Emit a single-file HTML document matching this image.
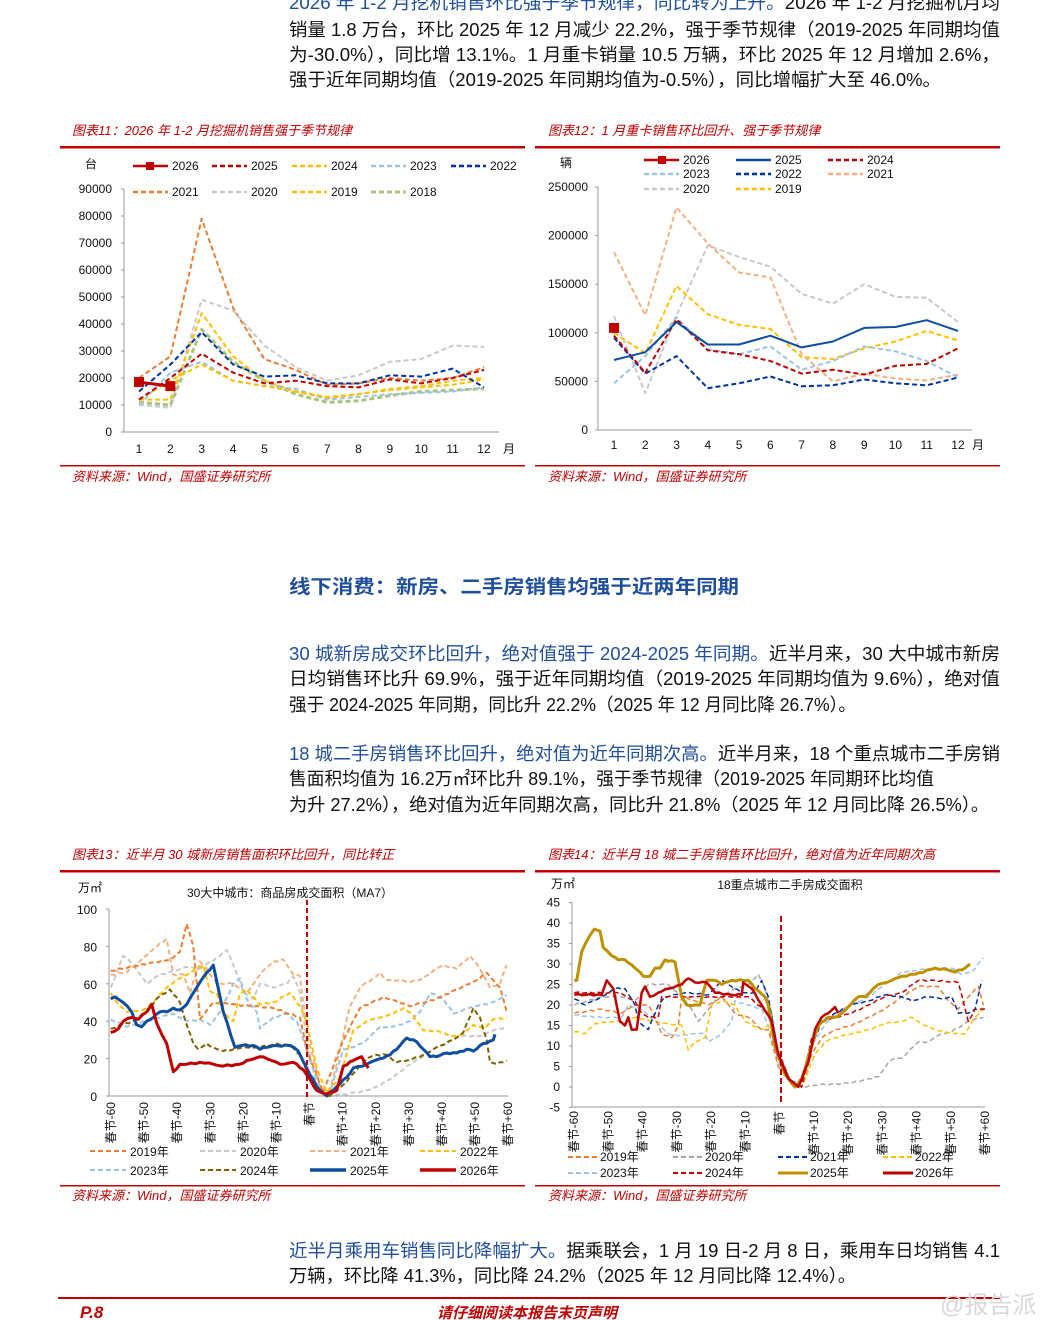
<!DOCTYPE html>
<html><head><meta charset="utf-8">
<style>
html,body{margin:0;padding:0;background:#fff;}
svg{display:block;font-family:"Liberation Sans","Noto Sans CJK SC",sans-serif;}
.b{font-size:18px;fill:#111;}
.bl{fill:#1f4e9c;}
.hd{font-size:13px;fill:#c00000;font-style:italic;}
.src{font-size:13px;fill:#c00000;font-style:italic;}
.ax{font-size:12px;fill:#111;}
.lg{font-size:12px;fill:#111;}
</style></head>
<body>
<svg id="s" width="1061" height="1320" viewBox="0 0 1061 1320" xmlns="http://www.w3.org/2000/svg">
<text class="b" x="289" y="9" textLength="711" lengthAdjust="spacingAndGlyphs"><tspan class="bl">2026 年 1-2 月挖机销售环比强于季节规律，同比转为上升。</tspan>2026 年 1-2 月挖掘机月均</text>
<text class="b" x="289" y="36" textLength="711" lengthAdjust="spacingAndGlyphs">销量 1.8 万台，环比 2025 年 12 月减少 22.2%，强于季节规律（2019-2025 年同期均值</text>
<text class="b" x="289" y="61" textLength="711" lengthAdjust="spacingAndGlyphs">为-30.0%），同比增 13.1%。1 月重卡销量 10.5 万辆，环比 2025 年 12 月增加 2.6%，</text>
<text class="b" x="289" y="86" textLength="652" lengthAdjust="spacingAndGlyphs">强于近年同期均值（2019-2025 年同期均值为-0.5%），同比增幅扩大至 46.0%。</text>

<text class="hd" x="72" y="135">图表11：2026 年 1-2 月挖掘机销售强于季节规律</text>
<text class="hd" x="548" y="135">图表12：1 月重卡销售环比回升、强于季节规律</text>
<rect x="60" y="146" width="465" height="2.5" fill="#c00000"/>
<rect x="535" y="146" width="465" height="2.5" fill="#c00000"/>
<rect x="60" y="465" width="465" height="1.5" fill="#c00000"/>
<rect x="535" y="465" width="465" height="1.5" fill="#c00000"/>
<text class="src" x="72" y="481">资料来源：Wind，国盛证券研究所</text>
<text class="src" x="548" y="481">资料来源：Wind，国盛证券研究所</text>

<g id="c11"></g>
<g id="c12"></g>

<text x="289" y="593" font-size="19" font-weight="bold" fill="#1f4e9c" textLength="450" lengthAdjust="spacingAndGlyphs">线下消费：新房、二手房销售均强于近两年同期</text>
<text class="b" x="289" y="660" textLength="711" lengthAdjust="spacingAndGlyphs"><tspan class="bl">30 城新房成交环比回升，绝对值强于 2024-2025 年同期。</tspan>近半月来，30 大中城市新房</text>
<text class="b" x="289" y="685" textLength="711" lengthAdjust="spacingAndGlyphs">日均销售环比升 69.9%，强于近年同期均值（2019-2025 年同期均值为 9.6%），绝对值</text>
<text class="b" x="289" y="711" textLength="567" lengthAdjust="spacingAndGlyphs">强于 2024-2025 年同期，同比升 22.2%（2025 年 12 月同比降 26.7%）。</text>
<text class="b" x="289" y="760" textLength="711" lengthAdjust="spacingAndGlyphs"><tspan class="bl">18 城二手房销售环比回升，绝对值为近年同期次高。</tspan>近半月来，18 个重点城市二手房销</text>
<text class="b" x="289" y="785" textLength="645" lengthAdjust="spacingAndGlyphs">售面积均值为 16.2万㎡环比升 89.1%，强于季节规律（2019-2025 年同期环比均值</text>
<text class="b" x="289" y="811" textLength="700" lengthAdjust="spacingAndGlyphs">为升 27.2%），绝对值为近年同期次高，同比升 21.8%（2025 年 12 月同比降 26.5%）。</text>

<text class="hd" x="72" y="859">图表13：近半月 30 城新房销售面积环比回升，同比转正</text>
<text class="hd" x="548" y="859">图表14：近半月 18 城二手房销售环比回升，绝对值为近年同期次高</text>
<rect x="60" y="870" width="465" height="2.5" fill="#c00000"/>
<rect x="535" y="870" width="465" height="2.5" fill="#c00000"/>
<rect x="60" y="1185" width="465" height="1.5" fill="#c00000"/>
<rect x="535" y="1185" width="465" height="1.5" fill="#c00000"/>
<text class="src" x="72" y="1200">资料来源：Wind，国盛证券研究所</text>
<text class="src" x="548" y="1200">资料来源：Wind，国盛证券研究所</text>
<g id="c13"></g>
<g id="c14"></g>

<text class="b" x="289" y="1257" textLength="711" lengthAdjust="spacingAndGlyphs"><tspan class="bl">近半月乘用车销售同比降幅扩大。</tspan>据乘联会，1 月 19 日-2 月 8 日，乘用车日均销售 4.1</text>
<text class="b" x="289" y="1282" textLength="567" lengthAdjust="spacingAndGlyphs">万辆，环比降 41.3%，同比降 24.2%（2025 年 12 月同比降 12.4%）。</text>

<rect x="58" y="1297" width="942" height="2" fill="#c00000"/>
<text x="80" y="1318" font-size="17" font-weight="bold" font-style="italic" fill="#c00000">P.8</text>
<text x="527" y="1318" font-size="15" font-weight="bold" font-style="italic" fill="#c00000" text-anchor="middle">请仔细阅读本报告末页声明</text>
<text x="940" y="1313" font-size="24" fill="#d8d8d8">@报告派</text>
</svg>
<script>
var NS="http://www.w3.org/2000/svg";
function el(g,t,a,txt){var e=document.createElementNS(NS,t);for(var k in a)e.setAttribute(k,a[k]);if(txt!==undefined)e.textContent=txt;g.appendChild(e);return e;}
function poly(g,pts,col,w,dash){var d=pts.map(function(p,i){return (i?"L":"M")+p[0].toFixed(1)+" "+p[1].toFixed(1);}).join("");var a={d:d,fill:"none",stroke:col,"stroke-width":w,"stroke-linejoin":"round"};if(dash)a["stroke-dasharray"]=dash;el(g,"path",a);}
var D="5,3";
(function(){var g=document.getElementById("c11");
var X=function(m){return 139+(m-1)*31.36;},Y=function(v){return 432-v*2.7;};
el(g,"line",{x1:124,y1:189,x2:124,y2:432,stroke:"#999"});el(g,"line",{x1:124,y1:432,x2:499,y2:432,stroke:"#999"});
for(var i=0;i<=9;i++){el(g,"line",{x1:121,y1:Y(i*10),x2:124,y2:Y(i*10),stroke:"#999"});el(g,"text",{x:112,y:Y(i*10)+4,"text-anchor":"end","class":"ax"},i?String(i*10000):"0");}
for(var m=1;m<=12;m++)el(g,"text",{x:X(m),y:453,"text-anchor":"middle","class":"ax"},String(m));
el(g,"text",{x:503,y:453,"class":"ax","font-size":"11"},"月");el(g,"text",{x:85,y:168,"class":"ax","font-size":"11"},"台");
var S=[
["2021","#ed7d31",[20,28,79,46,27,23,17.5,18,20,19,20,24]],
["2020","#c9c9c9",[10,9,49,45,32,24,19,21,26,27,32,31.5]],
["2019","#ffc000",[12,12,44,28,19,15,12.5,14,16,17,19,20]],
["2018","#a9c47f",[11,10,38,26,19,14,11,11.5,13.5,15,15.5,16]],
["2023","#9dc3e6",[10,22,26,19,17,16,12,13,14,14.5,15,16.5]],
["2024","#ffc000",[12,19,25,19,17,15,13,14,15.5,16.5,17.5,19.5]],
["2022","#0033a0",[15,25,37,25,20.5,21,18,18,21,20.5,23.5,16.5]],
["2025","#c00000",[12,20,29,22,18,19,17,16.5,19.5,18,20,23]]];
S.forEach(function(s){poly(g,s[2].map(function(v,i){return[X(i+1),Y(v)]}),s[1],s[0]=="2018"?3:2,D);});
poly(g,[[X(1),Y(18.5)],[X(2),Y(17)]],"#c00000",3);
el(g,"rect",{x:X(1)-5,y:Y(18.5)-5,width:10,height:10,fill:"#c00000"});el(g,"rect",{x:X(2)-5,y:Y(17)-5,width:10,height:10,fill:"#c00000"});
var L=[["2026","#c00000",133,166,0],["2025","#c00000",212,166,1],["2024","#ffc000",292,166,1],["2023","#9dc3e6",371,166,1],["2022","#0033a0",451,166,1],
["2021","#ed7d31",133,192,1],["2020","#c9c9c9",212,192,1],["2019","#ffc000",292,192,1],["2018","#a9c47f",371,192,1]];
L.forEach(function(l){poly(g,[[l[2],l[3]],[l[2]+35,l[3]]],l[1],l[0]=="2018"?3:2.5,l[4]?D:null);if(!l[4])el(g,"rect",{x:l[2]+13,y:l[3]-4,width:8,height:8,fill:l[1]});el(g,"text",{x:l[2]+39,y:l[3]+4,"class":"lg"},l[0]);});
})();
(function(){var g=document.getElementById("c12");
var X=function(m){return 614+(m-1)*31.27;},Y=function(v){return 430-v*0.972;};
el(g,"line",{x1:598,y1:187,x2:598,y2:430,stroke:"#999"});el(g,"line",{x1:598,y1:430,x2:972,y2:430,stroke:"#999"});
for(var i=0;i<=5;i++){el(g,"line",{x1:595,y1:Y(i*50),x2:598,y2:Y(i*50),stroke:"#999"});el(g,"text",{x:588,y:Y(i*50)+4,"text-anchor":"end","class":"ax","font-size":"11"},i?String(i*50000):"0");}
for(var m=1;m<=12;m++)el(g,"text",{x:X(m),y:449,"text-anchor":"middle","class":"ax","font-size":"11"},String(m));
el(g,"text",{x:972,y:449,"class":"ax","font-size":"10"},"月");el(g,"text",{x:560,y:167,"class":"ax","font-size":"10"},"辆");
var S=[["2020","#c9c9c9",[117,38,118,190,178,168,140,130,150,137,136,111],D],
["2021","#f4b183",[183,118,229,192,162,157,78,50,58,53,51,57],D],
["2019","#ffc000",[100,79,148,119,108,104,75,73,84,91,102,92],D],
["2023","#9dc3e6",[48,76,116,83,78,86,62,71,86,81,71,54],D],
["2022","#0033a0",[95,58,76,43,48,55,45,46,52,48,46,54],D],
["2024","#c00000",[97,59,114,82,78,71,58,62,57,66,68,84],D],
["2025","#0e4ea0",[72,80,111,88,88,97,85,91,105,106,113,102],null]];
S.forEach(function(s){poly(g,s[2].map(function(v,i){return[X(i+1),Y(v)]}),s[1],2,s[3]);});
el(g,"rect",{x:X(1)-5,y:Y(105)-5,width:10,height:10,fill:"#c00000"});
var L=[["2026","#c00000",644,160,0],["2025","#0e4ea0",736,160,0],["2024","#c00000",828,160,1],["2023","#9dc3e6",644,174,1],["2022","#0033a0",736,174,1],["2021","#f4b183",828,174,1],["2020","#c9c9c9",644,189,1],["2019","#ffc000",736,189,1]];
L.forEach(function(l){poly(g,[[l[2],l[3]],[l[2]+35,l[3]]],l[1],2.5,l[4]?D:null);if(l[0]=="2026")el(g,"rect",{x:l[2]+14,y:l[3]-4,width:8,height:8,fill:l[1]});el(g,"text",{x:l[2]+39,y:l[3]+4,"class":"lg"},l[0]);});
})();
function wobble(pts,amp){var o=[];for(var i=0;i<pts.length-1;i++){var a=pts[i],b=pts[i+1];var n=Math.max(1,Math.round((b[0]-a[0])/4));for(var j=0;j<n;j++){var t=j/n;o.push([a[0]+(b[0]-a[0])*t,a[1]+(b[1]-a[1])*t+(j?amp*Math.sin(a[0]*1.7+j*2.3):0)]);}}o.push(pts[pts.length-1]);return o;}
(function(){var g=document.getElementById("c13");
var Y=function(v){return 1096-v*1.87;};var XZ=function(zx){return zx/3+60;};
el(g,"line",{x1:109,y1:909,x2:109,y2:1096,stroke:"#999"});el(g,"line",{x1:109,y1:1096,x2:508,y2:1096,stroke:"#999"});
for(var i=0;i<=5;i++){el(g,"line",{x1:106,y1:Y(i*20),x2:109,y2:Y(i*20),stroke:"#999"});el(g,"text",{x:97,y:Y(i*20)+5,"text-anchor":"end","class":"ax","font-size":"14"},String(i*20));}
el(g,"text",{x:78,y:892,"class":"ax","font-size":"11"},"万㎡");
el(g,"text",{x:290,y:897,"text-anchor":"middle","class":"ax","font-size":"12"},"30大中城市：商品房成交面积（MA7）");
var labs=["春节-60","春节-50","春节-40","春节-30","春节-20","春节-10","春节","春节+10","春节+20","春节+30","春节+40","春节+50","春节+60"];
labs.forEach(function(t,i){var x=111+i*33.1;el(g,"text",{x:0,y:0,transform:"translate("+(x+4)+",1102) rotate(-90)","text-anchor":"end","class":"ax","font-size":"9"},t);});
var S=[
["#c9c9c9",[[152,58],[190,75],[220,70],[260,60],[290,64],[340,67],[380,69],[420,68],[480,75],[500,78],[520,70],[550,56],[580,52],[600,60],[640,58],[680,60],[700,64],[720,55],[740,30],[770,5],[800,1],[850,1],[900,2],[950,5],[1000,10],[1040,16],[1080,20],[1120,25],[1200,32],[1260,32],[1300,35],[1340,37]],D,2],
["#f4b183",[[152,65],[200,66],[250,74],[290,80],[320,84],[340,65],[370,65],[390,55],[420,72],[440,68],[470,60],[520,60],[560,55],[600,65],[640,72],[670,73],[700,65],[720,64],[740,35],[780,5],[810,2],[840,25],[870,48],[900,58],[940,63],[960,66],[980,62],[1020,62],[1040,61],[1080,62],[1120,67],[1150,70],[1190,68],[1230,75],[1260,68],[1290,58],[1320,60],[1340,70]],D,2],
["#9dc3e6",[[152,41],[200,37],[260,40],[300,42],[340,44],[380,40],[420,41],[450,38],[480,45],[520,60],[540,63],[560,52],[590,45],[600,36],[640,42],[680,44],[710,40],[740,25],[780,3],[810,2],[850,25],[880,26],[920,30],[960,37],[1000,37],[1050,40],[1080,45],[1110,55],[1150,52],[1180,44],[1210,46],[1240,48],[1280,49],[1320,52],[1340,54]],D,2],
["#ed7d31",[[152,67],[330,73],[360,77],[380,92],[400,80],[420,41],[460,50],[640,47],[720,42],[740,25],[790,2],[850,30],[900,47],[970,53],[1050,48],[1130,52],[1250,62],[1280,66],[1320,58],[1340,45]],D,2],
["#ffc000",[[152,55],[180,48],[200,45],[250,46],[290,52],[320,58],[360,63],[400,67],[430,70],[450,56],[470,55],[490,44],[520,40],[540,55],[560,57],[600,49],[640,50],[690,55],[720,48],[740,40],[770,15],[800,2],[840,10],[880,35],[920,40],[960,42],[1000,44],[1030,47],[1060,43],[1090,35],[1130,35],[1170,32],[1210,33],[1240,38],[1270,36],[1300,41],[1340,42]],D,2],
["#7f6000",[[152,36],[180,38],[220,40],[260,45],[290,52],[330,57],[360,50],[380,38],[400,28],[415,25],[440,28],[460,26],[490,24],[520,25],[560,26],[600,26],[650,28],[690,27],[720,22],[750,9],[780,2],[810,0],[850,6],[880,12],[920,20],[950,22],[980,22],[1010,18],[1040,19],[1080,21],[1120,25],[1180,30],[1210,34],[1240,47],[1260,42],[1280,30],[1290,18],[1310,17],[1340,19]],D,2],
["#0e4ea0",[[152,52],[165,53],[190,50],[215,45],[230,38],[245,37],[260,40],[280,42],[300,45],[320,45],[340,47],[360,46],[380,49],[410,58],[440,66],[460,70],[490,45],[525,26],[545,27],[580,27],[600,25],[620,26],[650,27],[690,27],[715,24],[740,15],[770,5],[800,0],[830,5],[860,10],[880,15],[920,17],[960,20],[990,22],[1020,27],[1040,31],[1070,29],[1090,25],[1110,21],[1130,21],[1160,23],[1190,23],[1220,25],[1240,24],[1270,28],[1300,30],[1305,33]],null,3],
["#c00000",[[152,34],[175,36],[190,40],[215,42],[235,41],[260,45],[275,49],[290,39],[305,33],[320,28],[340,13],[360,17],[380,17],[420,18],[460,17],[490,16],[540,17],[560,19],[600,21],[620,20],[660,17],[700,18],[730,14],[750,9],[770,3],[800,1],[830,3],[850,16],[880,19],[905,21],[925,15]],null,3]];
S.forEach(function(s){poly(g,wobble(s[1].map(function(p){return[XZ(p[0]),Y(p[1])]}),0.8),s[0],s[3],s[2]);});
el(g,"line",{x1:307,y1:900,x2:307,y2:1097,stroke:"#c00000","stroke-width":2,"stroke-dasharray":"5,3"});
var L=[["2019年","#ed7d31",90,1151,D],["2020年","#c9c9c9",200,1151,D],["2021年","#f4b183",310,1151,D],["2022年","#ffc000",420,1151,D],["2023年","#9dc3e6",90,1170,D],["2024年","#7f6000",200,1170,D],["2025年","#0e4ea0",310,1170,null],["2026年","#c00000",420,1170,null]];
L.forEach(function(l){poly(g,[[l[2],l[3]],[l[2]+36,l[3]]],l[1],l[4]?2:3.5,l[4]);el(g,"text",{x:l[2]+40,y:l[3]+5,"class":"lg","font-size":"13"},l[0]);});
})();
(function(){var g=document.getElementById("c14");
var Y=function(v){return 1087-v*4.1;};var XZ=function(zx){return zx/3+535;};
el(g,"line",{x1:572,y1:902,x2:572,y2:1107,stroke:"#999"});el(g,"line",{x1:572,y1:1107,x2:985,y2:1107,stroke:"#999"});
for(var v=-5;v<=45;v+=5){el(g,"line",{x1:569,y1:Y(v),x2:572,y2:Y(v),stroke:"#999"});el(g,"text",{x:560,y:Y(v)+4,"text-anchor":"end","class":"ax","font-size":"11"},String(v));}
el(g,"text",{x:551,y:888,"class":"ax","font-size":"10"},"万㎡");
el(g,"text",{x:790,y:889,"text-anchor":"middle","class":"ax","font-size":"11"},"18重点城市二手房成交面积");
var labs=["春节-60","春节-50","春节-40","春节-30","春节-20","春节-10","春节","春节+10","春节+20","春节+30","春节+40","春节+50","春节+60"];
labs.forEach(function(t,i){var x=574+i*34.25;el(g,"text",{x:0,y:0,transform:"translate("+(x+4)+",1111) rotate(-90)","text-anchor":"end","class":"ax","font-size":"9"},t);});
var S=[
["#a6a6a6",[[118,20],[200,22],[260,22],[300,21],[340,25],[400,25],[440,22],[470,19],[490,16],[510,18],[540,21],[600,24],[640,25],[670,27.5],[690,24],[710,18],[730,9],[770,1],[800,0],[850,0.5],[950,1],[1000,2],[1030,2.5],[1060,6],[1080,7],[1100,7],[1150,11],[1180,11],[1220,13],[1250,13.5],[1300,16],[1345,17]],D,1.5],
["#9dc3e6",[[118,17.5],[200,17],[260,17],[280,20],[320,19],[360,16],[400,13],[430,12.5],[470,13],[510,13],[520,11],[560,13],[590,16],[600,21],[640,20],[680,19],[700,15],[730,6],[770,1],[800,2],[830,10],[860,14],[900,18],[950,20],[1000,22],[1050,25],[1100,28],[1150,28.5],[1200,29],[1250,29],[1280,27.5],[1310,28],[1345,31.5]],D,1.5],
["#ffc000",[[118,13.5],[150,13],[180,15.5],[240,16],[270,16],[300,17],[350,16],[400,15.5],[440,15],[460,9],[480,11],[510,12],[530,20],[560,21],[600,20],[630,16],[680,14],[700,15],[730,8],[770,1],[800,0],[840,8],[870,11],[900,12],[950,13],[1000,14],[1050,15.5],[1100,16],[1130,17],[1170,15],[1200,14],[1260,13],[1290,13],[1320,17],[1345,19]],D,1.5],
["#ed7d31",[[118,18],[200,19],[260,18],[300,20],[340,20],[360,17],[380,13],[410,12],[430,15],[440,22],[480,21],[520,20],[560,22],[600,18],[640,17],[680,14],[700,14],[730,5],[770,1],[800,0],[830,8],[860,12],[900,14],[950,15],[1000,17],[1050,19],[1100,22],[1150,24.5],[1210,24.5],[1240,21],[1270,19],[1300,22],[1330,24.5],[1345,20]],D,1.5],
["#0033a0",[[118,21.5],[150,20],[200,22],[240,24],[270,24],[300,20],[310,16],[340,14],[370,20],[390,22],[450,23],[520,22.5],[560,26],[620,23],[660,23],[680,26],[700,22],[730,8],[770,1],[790,0],[830,10],[860,16],[900,18],[950,20],[1000,21],[1050,22.5],[1100,22],[1130,21],[1180,22],[1220,21.5],[1250,22],[1270,18],[1300,18],[1320,19],[1340,26]],D,1.5],
["#c00000",[[118,23],[200,23],[250,23],[300,21],[320,18],[340,17],[370,17],[380,22],[430,22],[470,22],[520,22],[560,22],[610,22],[640,22],[700,18],[730,8],[770,1],[800,0],[830,12],[860,16],[900,17],[950,18],[1000,20],[1050,22],[1100,23],[1150,26],[1200,26],[1270,25.5],[1300,16],[1320,19],[1350,19]],D,1.5],
["#bf9000",[[118,26],[125,26],[140,33],[165,37],[178,38.5],[195,38],[205,34],[230,32],[250,31],[270,31],[300,29],[315,28],[325,27],[345,27],[360,29],[375,29],[390,31],[420,30.5],[440,22],[455,20],[495,20],[515,26],[540,26],[560,25],[590,26],[640,26],[660,24],[690,22],[700,20],[720,10],[750,3],[780,0],[800,2],[830,10],[850,15],[880,17],[900,17],[920,18],[970,22],[990,22],[1030,25],[1070,26],[1100,27],[1140,27.5],[1200,29],[1240,28.5],[1260,28],[1290,29],[1305,30]],null,3],
["#c00000",[[118,22.5],[200,22.5],[215,26],[235,24],[255,16],[270,15],[280,17],[290,14],[305,14],[320,23],[330,24.5],[345,22],[370,23],[400,24],[440,25],[460,26.5],[480,25.5],[515,25.5],[540,23],[590,22.5],[620,22.5],[625,25.5],[650,24],[680,20],[710,16],[730,8],[760,2],[790,0],[820,6],[840,14],[860,17],[880,18],[900,19.5],[910,18]],null,2.5]];
S.forEach(function(s){poly(g,wobble(s[1].map(function(p){return[XZ(p[0]),Y(p[1])]}),0.7),s[0],s[3],s[2]);});
el(g,"line",{x1:781,y1:916,x2:781,y2:1102,stroke:"#c00000","stroke-width":2,"stroke-dasharray":"6,3"});
var L=[["2019年","#ed7d31",568,1157,D],["2020年","#a6a6a6",673,1157,D],["2021年","#0033a0",778,1157,D],["2022年","#ffc000",883,1157,D],["2023年","#9dc3e6",568,1173,D],["2024年","#c00000",673,1173,D],["2025年","#bf9000",778,1173,null],["2026年","#c00000",883,1173,null]];
L.forEach(function(l){poly(g,[[l[2],l[3]],[l[2]+30,l[3]]],l[1],l[4]?2:3,l[4]);el(g,"text",{x:l[2]+32,y:l[3]+4,"class":"lg","font-size":"11"},l[0]);});
})();
</script>
</body></html>
